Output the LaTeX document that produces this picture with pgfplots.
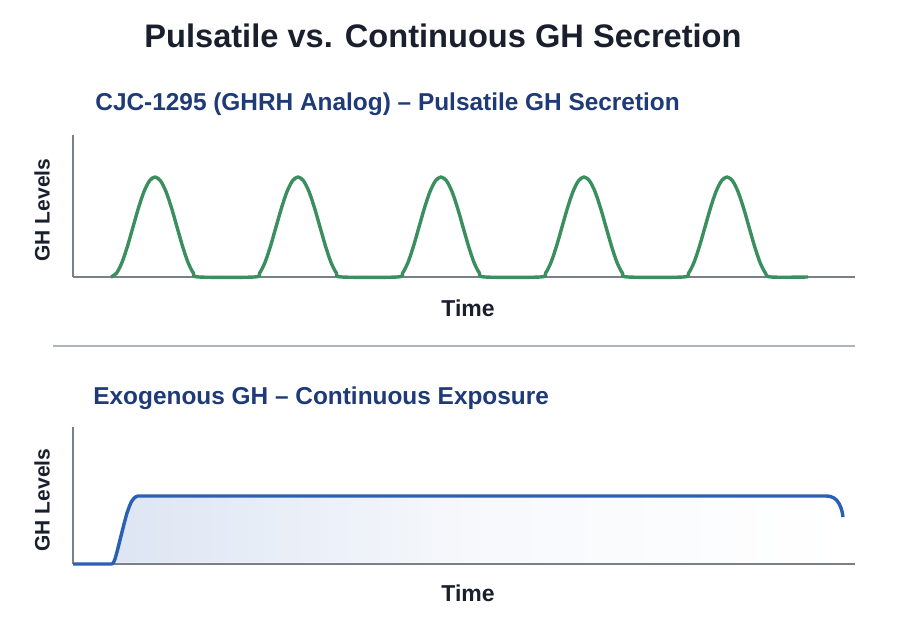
\documentclass[border=0pt]{standalone}
\usepackage{pgfplots}
\pgfplotsset{compat=1.18}
\usepackage{fontspec}
\setmainfont{Liberation Sans}
\definecolor{titlec}{HTML}{1A1F2E}
\definecolor{subc}{HTML}{1E3A78}
\definecolor{greenc}{HTML}{3B8F5E}
\definecolor{bluec}{HTML}{2B5FB3}
\definecolor{axc}{HTML}{7A808A}
\definecolor{sepc}{HTML}{B0B5BD}
\begin{document}
\begin{tikzpicture}[x=0.5pt,y=0.5pt]
\fill[white] (0,0) rectangle (910,622);
\pgfplotsset{
  panel/.style={
    scale only axis, width=391pt,
    axis lines=left, axis line style={axc, line width=0.8pt, -},
    xtick=\empty, ytick=\empty,
    xmin=73, xmax=855, ymin=0,
    clip=false,
  }
}
% top panel
\begin{axis}[panel, at={(73,345)}, anchor=south west, height=71pt, ymax=142]
\addplot[greenc, line width=1.7pt, smooth, tension=0.5, line join=round] coordinates {
(111,0) (116.5,3.8) (122,14.6) (127.5,30.9) (133,50) (138.5,69.1) (144,85.4) (149.5,96.2) (155,100)
(160.5,96.2) (166,85.4) (171.5,69.1) (177,50) (182.5,30.9) (188,14.6) (193.5,3.8) (199,0)
(254,0) (259.5,3.8) (265,14.6) (270.5,30.9) (276,50) (281.5,69.1) (287,85.4) (292.5,96.2) (298,100)
(303.5,96.2) (309,85.4) (314.5,69.1) (320,50) (325.5,30.9) (331,14.6) (336.5,3.8) (342,0)
(397,0) (402.5,3.8) (408,14.6) (413.5,30.9) (419,50) (424.5,69.1) (430,85.4) (435.5,96.2) (441,100)
(446.5,96.2) (452,85.4) (457.5,69.1) (463,50) (468.5,30.9) (474,14.6) (479.5,3.8) (485,0)
(540,0) (545.5,3.8) (551,14.6) (556.5,30.9) (562,50) (567.5,69.1) (573,85.4) (578.5,96.2) (584,100)
(589.5,96.2) (595,85.4) (600.5,69.1) (606,50) (611.5,30.9) (617,14.6) (622.5,3.8) (628,0)
(683,0) (688.5,3.8) (694,14.6) (699.5,30.9) (705,50) (710.5,69.1) (716,85.4) (721.5,96.2) (727,100)
(732.5,96.2) (738,85.4) (743.5,69.1) (749,50) (754.5,30.9) (760,14.6) (765.5,3.8) (771,0)
(808,0)
};
\end{axis}
% bottom panel
\begin{axis}[panel, at={(73,58)}, anchor=south west, height=68.5pt, ymax=137]
\addplot[draw=none, left color=bluec!16, right color=white, middle color=bluec!4] coordinates {
(114,1.5) (116,8) (120,24) (124,40) (128,54) (131,62) (134,66) (138,68) (826,68) (832,67) (837,64) (840,59) (842,53) (843,47) (843,1.5)
} -- cycle;
\addplot[bluec, line width=1.7pt, line join=round] coordinates {
(73,0) (112,0) (113.5,1.5) (115,5) (117,12) (120,24) (124,40) (127,51) (129.5,58) (131.5,62.5) (134,65.8) (136,67.3) (138,68)
(826,68) (830,67.6) (833.5,66.3) (836.5,64) (839,60.5) (841,56) (842.3,51.5) (843,47)
};
\end{axis}
% texts
\node[font=\fontsize{16.3}{18}\selectfont\bfseries, text=titlec] at (443,586) {Pulsatile vs. Continuous GH Secretion};
\node[font=\fontsize{12.2}{14}\selectfont\bfseries, text=subc, anchor=west, inner sep=0] at (95,518) {CJC-1295 (GHRH Analog) – Pulsatile GH Secretion};
\node[font=\fontsize{12.2}{14}\selectfont\bfseries, text=subc, anchor=west, inner sep=0] at (93,224) {Exogenous GH – Continuous Exposure};
\node[font=\fontsize{10.5}{12}\selectfont\bfseries, text=titlec, rotate=90] at (42,412) {GH Levels};
\node[font=\fontsize{10.5}{12}\selectfont\bfseries, text=titlec, rotate=90] at (42,122) {GH Levels};
\node[font=\fontsize{11.5}{13}\selectfont\bfseries, text=titlec] at (468,314) {Time};
\node[font=\fontsize{11.5}{13}\selectfont\bfseries, text=titlec] at (468,29) {Time};
\draw[sepc, line width=1.1pt] (53,276) -- (855,276);
\end{tikzpicture}
\end{document}
